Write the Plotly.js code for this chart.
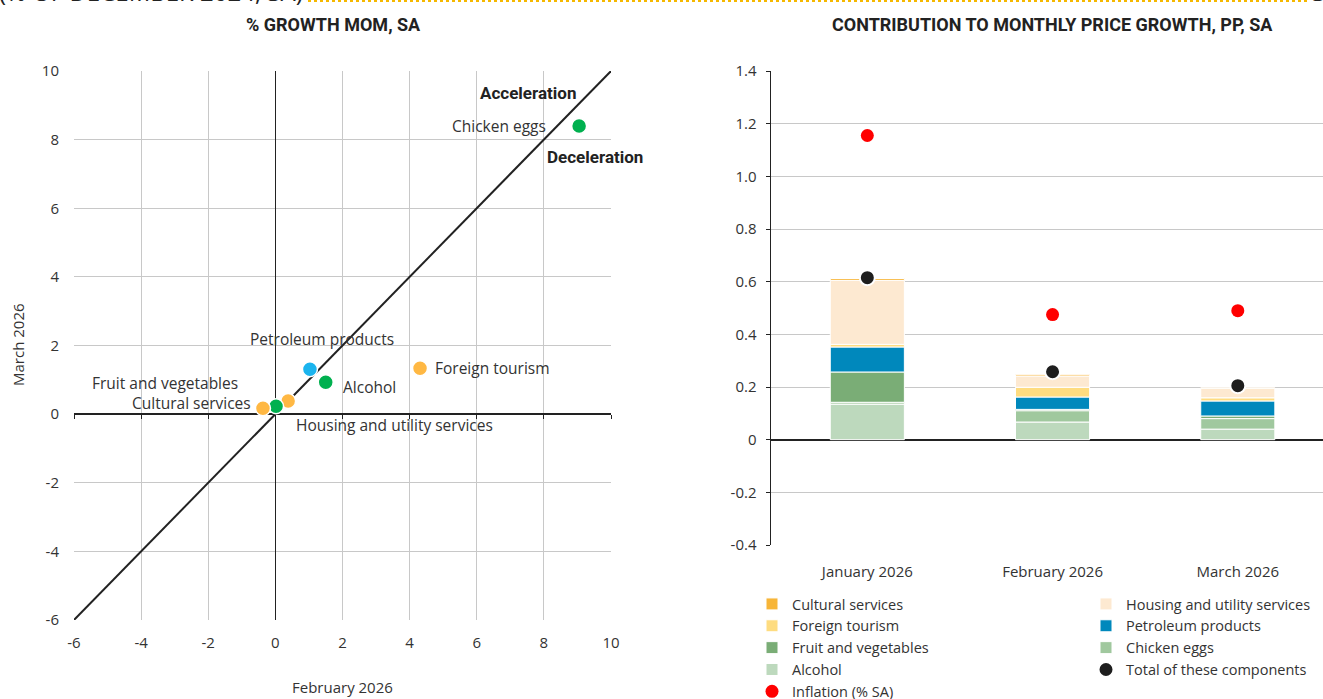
<!DOCTYPE html>
<html>
<head>
<meta charset="utf-8">
<script src="https://cdn.plot.ly/plotly-3.0.1.min.js"></script>
<style>
  body { margin: 0; background: #fff; }
  #plot { width: 1323px; height: 699px; }
</style>
</head>
<body>
<div id="plot"></div>
<script>
// left panel: % growth mom, sa
var items = ['Chicken eggs', 'Petroleum products', 'Alcohol', 'Foreign tourism',
             'Housing and utility services', 'Fruit and vegetables', 'Cultural services'];
var febGrowth = [9.05, 1.03, 1.5, 4.31, 0.38, 0.02, -0.37];
var marGrowth = [8.4, 1.31, 0.93, 1.34, 0.38, 0.23, 0.17];
var itemColors = ['#00b04f', '#1bb4ee', '#00b04f', '#ffb843', '#ffb843', '#00b04f', '#ffb843'];
var diagX = [-6, 10];
var diagY = [-6, 10];
var axisTicks = [-6, -4, -2, 0, 2, 4, 6, 8, 10];
var axisTickText = ['-6', '-4', '-2', '0', '2', '4', '6', '8', '10'];

// right panel: contributions, pp
var months = ['January 2026', 'February 2026', 'March 2026'];
var alcohol = [0.135, 0.067, 0.04];
var chickenEggs = [0.007, 0.043, 0.04];
var fruitVeg = [0.115, 0.005, 0.01];
var petroleum = [0.095, 0.047, 0.057];
var foreignTourism = [0.01, 0.037, 0.012];
var housing = [0.243, 0.043, 0.036];
var cultural = [0.007, 0.006, 0.002];
var totalComponents = [0.615, 0.258, 0.205];
var inflation = [1.155, 0.475, 0.49];
var ppTicks = [-0.4, -0.2, 0, 0.2, 0.4, 0.6, 0.8, 1.0, 1.2, 1.4];
var ppTickText = ['-0.4', '-0.2', '0', '0.2', '0.4', '0.6', '0.8', '1.0', '1.2', '1.4'];

// label placement (pixels) for the scatter points
var labelPos = [
  {xanchor: 'right', xshift: -31, yshift: 0},
  {xanchor: 'center', xshift: 12, yshift: 30},
  {xanchor: 'left', xshift: 15, yshift: -5},
  {xanchor: 'left', xshift: 13, yshift: 0},
  {xanchor: 'left', xshift: 6, yshift: -24},
  {xanchor: 'right', xshift: -36, yshift: 23},
  {xanchor: 'right', xshift: -10, yshift: 5}
];

var FONT = '"Open Sans", "Noto Sans", sans-serif';
var TFONT = 'Roboto, "Noto Sans", sans-serif';
var W = 1323, H = 699;
function px(x) { return x / W; }
function py(y) { return 1 - y / H; }

var traces = [];

traces.push({
  x: diagX, y: diagY, mode: 'lines', type: 'scatter',
  line: {color: '#222', width: 2}, showlegend: false, hoverinfo: 'skip',
  xaxis: 'x', yaxis: 'y'
});
traces.push({
  x: febGrowth, y: marGrowth, text: items, mode: 'markers', type: 'scatter',
  marker: {size: 15, color: itemColors, line: {color: '#fff', width: 1.5}},
  showlegend: false, xaxis: 'x', yaxis: 'y'
});

var bar = function (name, vals, color, leg, rank) {
  return {
    x: months, y: vals, name: name, type: 'bar',
    marker: {color: color, line: {color: '#fff', width: 1}},
    legend: leg, legendrank: rank, xaxis: 'x3', yaxis: 'y3'
  };
};
traces.push(bar('Alcohol', alcohol, '#bdd9bd', 'legend', 4));
traces.push(bar('Chicken eggs', chickenEggs, '#a0c89e', 'legend2', 3));
traces.push(bar('Fruit and vegetables', fruitVeg, '#7aad76', 'legend', 3));
traces.push(bar('Petroleum products', petroleum, '#0088bc', 'legend2', 2));
traces.push(bar('Foreign tourism', foreignTourism, '#fedc80', 'legend', 2));
traces.push(bar('Housing and utility services', housing, '#fde9d1', 'legend2', 1));
traces.push(bar('Cultural services', cultural, '#f7b538', 'legend', 1));

traces.push({
  x: months, y: totalComponents, name: 'Total of these components', type: 'scatter', mode: 'markers',
  marker: {size: 15, color: '#1e1e1e', line: {color: '#fff', width: 2}},
  legend: 'legend2', legendrank: 4, xaxis: 'x3', yaxis: 'y3'
});
traces.push({
  x: months, y: inflation, name: 'Inflation (% SA)', type: 'scatter', mode: 'markers',
  marker: {size: 13, color: '#ff0000'},
  legend: 'legend', legendrank: 5, xaxis: 'x3', yaxis: 'y3'
});

var annotations = items.map(function (t, i) {
  return {
    x: febGrowth[i], y: marGrowth[i], xref: 'x', yref: 'y', text: t, showarrow: false,
    xanchor: labelPos[i].xanchor, yanchor: 'middle',
    xshift: labelPos[i].xshift, yshift: labelPos[i].yshift,
    font: {family: FONT, size: 15.5, color: '#333'}
  };
});
var paperNote = function (x, y, text, font, extra) {
  var a = {x: px(x), y: py(y), xref: 'paper', yref: 'paper', xanchor: 'center', yanchor: 'middle',
           text: text, showarrow: false, font: font};
  for (var k in extra) a[k] = extra[k];
  return a;
};
annotations.push(
  {x: 7.53, y: 9.36, xref: 'x', yref: 'y', text: '<b>Acceleration</b>', showarrow: false,
   font: {family: TFONT, size: 17, color: '#222'}},
  {x: 9.53, y: 7.49, xref: 'x', yref: 'y', text: '<b>Deceleration</b>', showarrow: false,
   font: {family: TFONT, size: 17, color: '#222'}},
  paperNote(334, 24, '<b>% GROWTH MOM, SA</b>', {family: TFONT, size: 18, color: '#222'}),
  paperNote(1052, 24, '<b>CONTRIBUTION TO MONTHLY PRICE GROWTH, PP, SA</b>', {family: TFONT, size: 18, color: '#222'}),
  paperNote(342, 687, 'February 2026', {family: FONT, size: 15, color: '#333'}),
  paperNote(18, 345, 'March 2026', {family: FONT, size: 15, color: '#333'}, {textangle: -90}),
  paperNote(-3, -8, '(% OF DECEMBER 2024, SA)', {family: FONT, size: 24, color: '#222'}, {xanchor: 'left'}),
  paperNote(1310, -8, 'SA', {family: FONT, size: 24, color: '#222'}, {xanchor: 'left'})
);

var legendStyle = function (x) {
  return {
    orientation: 'v', x: px(x), y: py(588), xanchor: 'left', yanchor: 'top',
    font: {family: FONT, size: 14.5, color: '#333'}, itemwidth: 30, tracegroupgap: 0,
    bgcolor: 'rgba(0,0,0,0)'
  };
};

var layout = {
  width: W, height: H,
  margin: {l: 0, r: 0, t: 0, b: 0, autoexpand: false},
  paper_bgcolor: '#fff', plot_bgcolor: '#fff',
  font: {family: FONT, size: 15, color: '#333'},
  xaxis: {
    domain: [px(74), px(611)], range: [-6, 10], tickvals: axisTicks, ticktext: axisTickText,
    showgrid: true, gridcolor: '#c8c8c8', gridwidth: 1,
    zeroline: true, zerolinecolor: '#222', zerolinewidth: 1.5,
    showline: false, ticks: '', ticklabelstandoff: 12, fixedrange: true
  },
  yaxis: {
    domain: [py(620), py(71)], range: [-6, 10], tickvals: axisTicks, ticktext: axisTickText,
    showgrid: true, gridcolor: '#c8c8c8', gridwidth: 1,
    zeroline: true, zerolinecolor: '#222', zerolinewidth: 1.5,
    showline: false, ticks: '', ticklabelstandoff: 14, fixedrange: true
  },
  // tick marks hanging off the y = 0 line
  xaxis2: {
    overlaying: 'x', matches: 'x', anchor: 'free',
    position: py(620) + (py(71) - py(620)) * 6 / 16,
    tickvals: axisTicks, showticklabels: false, ticks: 'outside', ticklen: 4,
    tickcolor: '#222', showgrid: false, zeroline: false, showline: false
  },
  xaxis3: {
    domain: [px(771), 1], range: [-0.52, 2.46], anchor: 'y3',
    showgrid: false, zeroline: false, showline: false, ticks: '',
    ticklabelstandoff: 16, fixedrange: true
  },
  yaxis3: {
    domain: [py(545), py(71)], range: [-0.4, 1.4], anchor: 'x3',
    tickvals: ppTicks, ticktext: ppTickText,
    showgrid: true, gridcolor: '#c8c8c8', gridwidth: 1,
    zeroline: true, zerolinecolor: '#222', zerolinewidth: 2,
    showline: true, linecolor: '#222', linewidth: 1.5,
    ticks: 'outside', ticklen: 4, tickcolor: '#222', ticklabelstandoff: 6, fixedrange: true
  },
  barmode: 'relative', bargap: 0.6,
  showlegend: true,
  legend: legendStyle(752),
  legend2: legendStyle(1086),
  shapes: [
    {type: 'line', xref: 'paper', yref: 'paper', x0: px(308), x1: px(1308), y0: py(1), y1: py(1),
     line: {color: '#f5b800', width: 2, dash: 'dot'}}
  ],
  annotations: annotations
};

// invisible trace so xaxis2 is drawn
traces.push({x: [0], y: [0], xaxis: 'x2', yaxis: 'y', mode: 'markers', marker: {opacity: 0},
             showlegend: false, hoverinfo: 'skip'});

Plotly.newPlot('plot', traces, layout, {displayModeBar: false, staticPlot: true});
</script>
</body>
</html>
